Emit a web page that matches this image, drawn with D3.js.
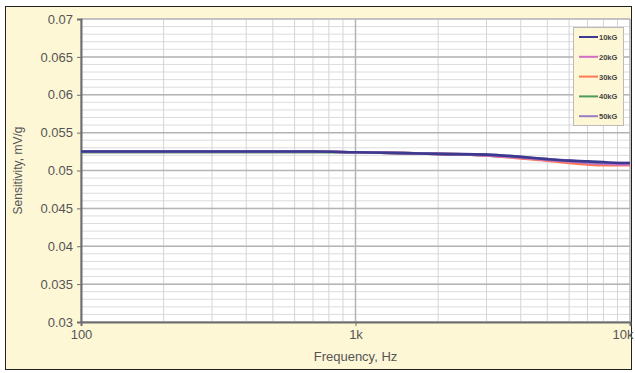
<!DOCTYPE html>
<html>
<head>
<meta charset="utf-8">
<script src="https://cdn.jsdelivr.net/npm/d3@7"></script>
<style>
  body { margin: 0; background: #fff; }
  svg { display: block; font-family: "Liberation Sans", Arial, sans-serif; }
</style>
</head>
<body>
<div id="chart"></div>
<script>
const freqs = [100, 200, 300, 500, 700, 1000, 1500, 2000, 3000, 4000, 5000, 6000, 7000, 8000, 9000, 10000];
const seriesNames = ['10kG', '20kG', '30kG', '40kG', '50kG'];
const seriesColors = ['#3c3a8e', '#d46cc4', '#ff7a52', '#4c9a5c', '#9a7cc6'];
const s10 = [0.0525, 0.0525, 0.0525, 0.0525, 0.0525, 0.0524, 0.0523, 0.0522, 0.0521, 0.0518, 0.0515, 0.0513, 0.0512, 0.0511, 0.0510, 0.0510];
const s20 = [0.0525, 0.0525, 0.0525, 0.0525, 0.0525, 0.0524, 0.0523, 0.0522, 0.0520, 0.0517, 0.0514, 0.0512, 0.0510, 0.0509, 0.0508, 0.0508];
const s30 = [0.0525, 0.0525, 0.0525, 0.0525, 0.0525, 0.0524, 0.0523, 0.0522, 0.0520, 0.0516, 0.0513, 0.0510, 0.0508, 0.0507, 0.0507, 0.0507];
const s40 = [0.0524, 0.0524, 0.0524, 0.0524, 0.0524, 0.0524, 0.0523, 0.0522, 0.0520, 0.0517, 0.0514, 0.0512, 0.0511, 0.0510, 0.0509, 0.0509];
const s50 = [0.0525, 0.0525, 0.0525, 0.0525, 0.0525, 0.0524, 0.0523, 0.0522, 0.0521, 0.0518, 0.0515, 0.0513, 0.0511, 0.0510, 0.0510, 0.0510];
const yTicks = [0.03, 0.035, 0.04, 0.045, 0.05, 0.055, 0.06, 0.065, 0.07];
const xTicks = [100, 1000, 10000];
const xTickLabels = ['100', '1k', '10k'];

const width = 635, height = 373;
const margin = { top: 19, right: 5, bottom: 51, left: 81 };
const innerW = 630 - margin.left;
const innerH = 322 - margin.top;

const svg = d3.select('#chart').append('svg').attr('width', width).attr('height', height);

svg.append('rect').attr('x', 5.5).attr('y', 6.5).attr('width', 626).attr('height', 363)
  .attr('fill', '#fdf7d6').attr('stroke', '#222').attr('stroke-width', 1);

const g = svg.append('g').attr('transform', `translate(${margin.left},${margin.top})`);

const x = d3.scaleLog().domain([100, 10000]).range([0, innerW]);
const y = d3.scaleLinear().domain([0.03, 0.07]).range([innerH, 0]);

g.append('rect').attr('width', innerW).attr('height', innerH).attr('fill', '#fff');

// minor grid
const minorY = d3.range(30, 71).map(d => d / 1000);
g.append('g').selectAll('line').data(minorY).join('line')
  .attr('x1', 0).attr('x2', innerW)
  .attr('y1', d => y(d)).attr('y2', d => y(d))
  .attr('stroke', '#dcdcdc').attr('stroke-width', 1);

const minorX = [];
[100, 1000].forEach(b => { for (let k = 2; k <= 9; k++) minorX.push(b * k); });
g.append('g').selectAll('line').data(minorX).join('line')
  .attr('x1', d => x(d)).attr('x2', d => x(d))
  .attr('y1', 0).attr('y2', innerH)
  .attr('stroke', '#d4d4d4').attr('stroke-width', 1);

// major grid
g.append('g').selectAll('line').data(yTicks).join('line')
  .attr('x1', 0).attr('x2', innerW)
  .attr('y1', d => y(d)).attr('y2', d => y(d))
  .attr('stroke', '#b4b4b4').attr('stroke-width', 1.5);
g.append('g').selectAll('line').data(xTicks).join('line')
  .attr('x1', d => x(d)).attr('x2', d => x(d))
  .attr('y1', 0).attr('y2', innerH)
  .attr('stroke', '#b4b4b4').attr('stroke-width', 1.5);

// axes
const yAxis = g.append('g').call(d3.axisLeft(y).tickValues(yTicks).tickSize(4).tickPadding(4)
  .tickFormat(d => d3.format('~g')(d)));
const xAxis = g.append('g').attr('transform', `translate(0,${innerH})`)
  .call(d3.axisBottom(x).tickValues(xTicks).tickSize(4).tickPadding(4)
    .tickFormat((d, i) => xTickLabels[i]));
[yAxis, xAxis].forEach(a => {
  a.select('.domain').attr('stroke', '#6e6e6e').attr('stroke-width', 2);
  a.selectAll('.tick line').attr('stroke', '#6e6e6e');
  a.selectAll('text').attr('fill', '#555').attr('font-size', 13)
    .attr('font-family', '"Liberation Sans", Arial, sans-serif');
});
// keep last label inside the frame
xAxis.selectAll('.tick text').filter(d => d === 10000)
  .attr('text-anchor', 'end').attr('dx', 3);

g.append('text').attr('x', x(1000)).attr('y', innerH + 39).attr('text-anchor', 'middle')
  .attr('font-size', 13).attr('fill', '#555').text('Frequency, Hz');
svg.append('text').attr('transform', `translate(22,${margin.top + innerH / 2}) rotate(-90)`)
  .attr('text-anchor', 'middle').attr('font-size', 12).attr('fill', '#555').text('Sensitivity, mV/g');

// series
const allSeries = [s10, s20, s30, s40, s50];
const line = d3.line().x((d, i) => x(freqs[i])).y(d => y(d)).curve(d3.curveMonotoneX);
const drawOrder = [3, 2, 1, 4, 0];
g.append('g').selectAll('path').data(drawOrder).join('path')
  .attr('d', i => line(allSeries[i]))
  .attr('fill', 'none')
  .attr('stroke', i => seriesColors[i])
  .attr('stroke-width', 2.6);

// legend
const lg = svg.append('g').attr('transform', 'translate(573,27)');
lg.append('rect').attr('x', 0.5).attr('y', 0.5).attr('width', 50).attr('height', 98)
  .attr('fill', '#fdf7d6').attr('stroke', '#bbb');
const items = lg.selectAll('g.item').data(seriesNames).join('g').attr('class', 'item')
  .attr('transform', (d, i) => `translate(0,${10 + i * 19.8})`);
items.append('line').attr('x1', 6).attr('x2', 25).attr('y1', 0).attr('y2', 0)
  .attr('stroke', (d, i) => seriesColors[i]).attr('stroke-width', 2);
items.append('text').attr('x', 26).attr('y', 3).attr('font-size', 7.5).attr('font-weight', 'bold')
  .attr('fill', '#444').text(d => d);
</script>
</body>
</html>
